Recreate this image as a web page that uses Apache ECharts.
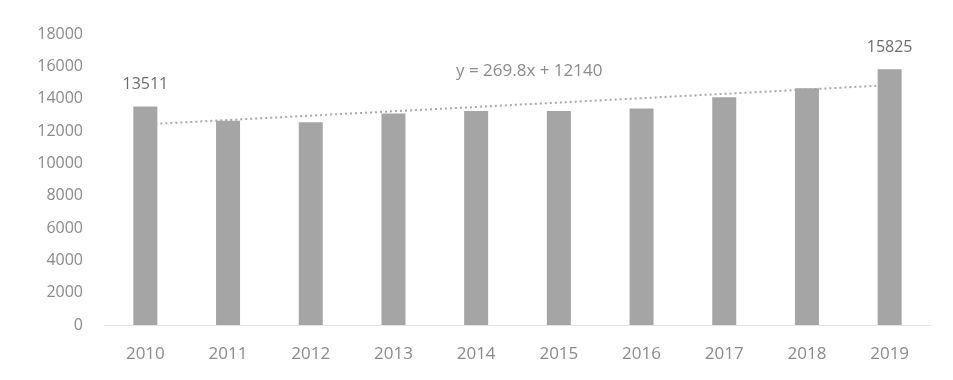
<!DOCTYPE html>
<html>
<head>
<meta charset="utf-8">
<script src="https://cdn.jsdelivr.net/npm/echarts@6/dist/echarts.min.js"></script>
<style>
    html, body { margin: 0; padding: 0; background: #fff; }
    #chart { width: 953px; height: 380px; }
</style>
</head>
<body>
<div id="chart"></div>
<script>
// 年份
var years = ["2010", "2011", "2012", "2013", "2014", "2015", "2016", "2017", "2018", "2019"];
// 柱状数据
var values = [13511, 12640, 12540, 13090, 13240, 13240, 13390, 14090, 14640, 15825];
// 趋势线上的点
var trend = [12410, 12680, 12950, 13220, 13490, 13760, 14030, 14300, 14570, 14840];
var trendLabel = "y = 269.8x + 12140";
// 只标注首尾两根柱子
var labelled = [0, 9];

var chart = echarts.init(document.getElementById("chart"));
var font = "'Open Sans', 'Liberation Sans', sans-serif";

var barData = values.map(function (v, i) {
    if (labelled.indexOf(i) === -1) return v;
    return {
        value: v,
        label: {
            show: true,
            position: "top",
            distance: 14,
            color: "#6e6e6e",
            fontSize: 16,
            fontFamily: font
        }
    };
});

var option = {
    animation: false,
    grid: { left: 104, right: 22, top: 34, bottom: 55 },
    xAxis: {
        type: "category",
        data: years,
        axisLine: { show: true, lineStyle: { color: "#e4e4e4", width: 1 } },
        axisTick: { show: false },
        axisLabel: { color: "#8a8a8a", fontSize: 17, fontFamily: font, margin: 21 }
    },
    yAxis: {
        type: "value",
        min: 0,
        max: 18000,
        interval: 2000,
        axisLine: { show: false },
        axisTick: { show: false },
        splitLine: { show: false },
        axisLabel: {
            color: "#8a8a8a", fontSize: 16, fontFamily: font, margin: 21,
            formatter: function (v) { return String(v); }
        }
    },
    series: [
        {
            type: "line",
            data: trend,
            symbol: "none",
            z: 1,
            lineStyle: { color: "#a8a8a8", width: 2, type: [2, 3] }
        },
        {
            type: "bar",
            data: barData,
            barWidth: 24,
            z: 2,
            itemStyle: { color: "#a5a5a5" }
        }
    ],
    graphic: [{
        type: "text",
        left: 456,
        top: 63,
        style: {
            text: trendLabel,
            fill: "#8a8a8a",
            fontSize: 17,
            fontFamily: font
        }
    }]
};
chart.setOption(option);
</script>
</body>
</html>
